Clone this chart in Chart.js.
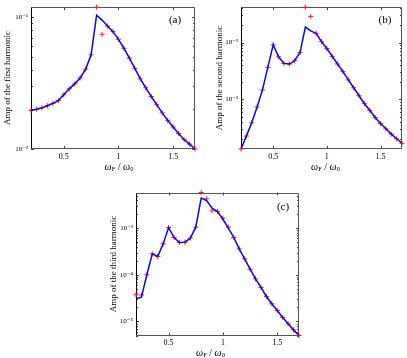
<!DOCTYPE html>
<html>
<head>
<meta charset="utf-8">
<script src="https://cdn.jsdelivr.net/npm/chart.js@4.4.1/dist/chart.umd.min.js"></script>
<style>
  body { margin: 0; background: #fff; width: 407px; height: 358px; position: relative; overflow: hidden; }
  canvas { position: absolute; }
</style>
</head>
<body>
<canvas id="chartA" width="205" height="175" style="left:0;top:0"></canvas>
<canvas id="chartB" width="202" height="175" style="left:205px;top:0"></canvas>
<canvas id="chartC" width="207" height="180" style="left:100px;top:178px"></canvas>
<script>
// driving frequency  wF / w0
const freq = [0.2, 0.25, 0.3, 0.35, 0.4, 0.45, 0.5, 0.55, 0.6, 0.65, 0.7, 0.75, 0.8, 0.85, 0.9, 0.95,
              1.0, 1.05, 1.1, 1.15, 1.2, 1.25, 1.3, 1.35, 1.4, 1.45, 1.5, 1.55, 1.6, 1.65, 1.7];
const xTickVals = [0.5, 1, 1.5];

// (a) first harmonic: blue curve and red '+' marks
const amp1Line  = [0.0196, 0.0200, 0.0205, 0.0213, 0.0222, 0.0233, 0.0258, 0.0286, 0.0312, 0.0346, 0.0404, 0.0518,
                   0.1035, 0.0950, 0.0856, 0.0776, 0.0679, 0.0581, 0.0489, 0.0409, 0.0340, 0.0291, 0.0250, 0.0217,
                   0.0188, 0.0165, 0.0147, 0.0131, 0.0118, 0.0109, 0.0100];
const amp1Marks = [0.0196, 0.0200, 0.0205, 0.0213, 0.0222, 0.0233, 0.0258, 0.0286, 0.0312, 0.0346, 0.0404, 0.0518,
                   0.1190, 0.0741, 0.0856, 0.0776, 0.0679, 0.0581, 0.0489, 0.0409, 0.0340, 0.0291, 0.0250, 0.0217,
                   0.0188, 0.0165, 0.0147, 0.0131, 0.0118, 0.0109, 0.0100];

// (b) second harmonic
const amp2Line  = [1.34e-4, 2.26e-4, 3.87e-4, 7.35e-4, 1.47e-3, 3.66e-3, 9.1e-3, 5.62e-3, 4.3e-3, 4.19e-3, 4.78e-3, 6.7e-3,
                   1.875e-2, 1.6e-2, 1.456e-2, 1.04e-2, 7.86e-3, 5.7e-3, 4.19e-3, 3.08e-3, 2.2e-3, 1.6e-3, 1.16e-3, 8.4e-4,
                   6.42e-4, 4.79e-4, 3.76e-4, 3.04e-4, 2.45e-4, 2.03e-4, 1.69e-4];
const amp2Marks = [1.34e-4, 2.26e-4, 3.87e-4, 7.35e-4, 1.47e-3, 3.66e-3, 9.1e-3, 5.62e-3, 4.3e-3, 4.19e-3, 4.78e-3, 6.7e-3,
                   4.19e-2, 2.88e-2, 1.456e-2, 1.04e-2, 7.86e-3, 5.7e-3, 4.19e-3, 3.08e-3, 2.2e-3, 1.6e-3, 1.16e-3, 8.4e-4,
                   6.42e-4, 4.79e-4, 3.76e-4, 3.04e-4, 2.45e-4, 2.03e-4, 1.69e-4];

// (c) third harmonic
const amp3Line  = [3.06e-5, 3.3e-5, 1.0e-4, 2.82e-4, 2.47e-4, 4.6e-4, 1.03e-3, 6.3e-4, 4.93e-4, 5.0e-4, 6.1e-4, 1.05e-3,
                   4.4e-3, 3.9e-3, 2.68e-3, 2.27e-3, 1.55e-3, 1.0e-3, 6.3e-4, 3.6e-4, 2.2e-4, 1.32e-4, 8.2e-5, 5.35e-5,
                   3.43e-5, 2.39e-5, 1.72e-5, 1.22e-5, 8.9e-6, 6.6e-6, 5.0e-6];
const amp3Marks = [3.73e-5, 3.7e-5, 1.0e-4, 2.82e-4, 2.47e-4, 4.6e-4, 1.03e-3, 6.3e-4, 4.93e-4, 5.0e-4, 6.1e-4, 1.05e-3,
                   5.8e-3, 4.25e-3, 2.35e-3, 2.27e-3, 1.64e-3, 1.05e-3, 6.3e-4, 3.6e-4, 2.2e-4, 1.32e-4, 8.2e-5, 5.35e-5,
                   3.43e-5, 2.39e-5, 1.72e-5, 1.22e-5, 8.9e-6, 6.6e-6, 5.0e-6];

const SERIF = '"Liberation Serif", "DejaVu Serif", serif';
const SUP = {'-': '\u207B', '0': '\u2070', '1': '\u00B9', '2': '\u00B2', '3': '\u00B3', '4': '\u2074', '5': '\u2075', '6': '\u2076'};
const powLabel = v => '10' + String(Math.round(Math.log10(v))).split('').map(c => SUP[c]).join('');

// box, inward ticks, panel letter and the x label with subscripts
const decor = {
  id: 'decor',
  beforeDatasetsDraw(chart) {
    const {ctx, chartArea: a, scales: {x, y}} = chart;
    ctx.save();
    ctx.lineWidth = 1;
    ctx.strokeStyle = '#444';
    ctx.beginPath();
    xTickVals.forEach(v => {
      const px = Math.round(x.getPixelForValue(v)) + 0.5;
      ctx.moveTo(px, a.bottom); ctx.lineTo(px, a.bottom - 3);
      ctx.moveTo(px, a.top); ctx.lineTo(px, a.top + 3);
    });
    for (let e = Math.floor(Math.log10(y.min)); e <= Math.ceil(Math.log10(y.max)); e++) {
      for (let m = 1; m < 10; m++) {
        const v = m * Math.pow(10, e);
        if (v < y.min * 0.999 || v > y.max) continue;
        const py = Math.round(y.getPixelForValue(v)) + 0.5;
        const len = m === 1 ? 3 : 2;
        ctx.moveTo(a.left, py); ctx.lineTo(a.left + len, py);
        ctx.moveTo(a.right, py); ctx.lineTo(a.right - len, py);
      }
    }
    ctx.stroke();
    const l = Math.round(a.left) + 0.5, r = Math.round(a.right) - 0.5;
    const t = Math.round(a.top) + 0.5, b = Math.round(a.bottom) - 0.5;
    ctx.strokeStyle = '#555';
    ctx.beginPath(); ctx.moveTo(l, t); ctx.lineTo(r, t); ctx.lineTo(r, b); ctx.lineTo(l, b); ctx.stroke();
    ctx.strokeStyle = '#000';
    ctx.beginPath(); ctx.moveTo(l, t); ctx.lineTo(l, b); ctx.stroke();

    const o = chart.options.plugins.decor;
    ctx.fillStyle = '#000';
    ctx.textBaseline = 'middle';
    ctx.textAlign = 'center';
    ctx.font = '11px ' + SERIF;
    ctx.fillText(o.letter, a.right - o.letterDx, a.top + o.letterDy);

    // x label: wF / w0
    const parts = [
      ['\u03C9', 'italic 10px ' + SERIF, 0],
      ['F', '6.5px ' + SERIF, 2],
      [' / ', '10px ' + SERIF, 0],
      ['\u03C9', 'italic 10px ' + SERIF, 0],
      ['0', '6.5px ' + SERIF, 2]
    ];
    let w = 0;
    parts.forEach(p => { ctx.font = p[1]; w += ctx.measureText(p[0]).width; });
    let cx = (a.left + a.right) / 2 + o.titleDx - w / 2;
    ctx.textAlign = 'left';
    parts.forEach(p => {
      ctx.font = p[1];
      ctx.fillText(p[0], cx, o.titleY + p[2]);
      cx += ctx.measureText(p[0]).width;
    });
    ctx.restore();
  }
};

function makeChart(id, lineVals, markVals, yTitle, box) {
  const all = lineVals.concat(markVals);
  return new Chart(document.getElementById(id), {
    type: 'line',
    data: {
      datasets: [
        {
          data: freq.map((f, i) => ({x: f, y: lineVals[i]})),
          borderColor: '#0808e0',
          borderWidth: 1.5,
          pointRadius: 0,
          tension: 0,
          order: 0
        },
        {
          data: freq.map((f, i) => ({x: f, y: markVals[i]})),
          showLine: false,
          pointStyle: 'cross',
          pointRadius: 2.6,
          pointBorderWidth: 1,
          pointBorderColor: '#ff2020',
          clip: false,
          order: 1
        }
      ]
    },
    options: {
      responsive: false,
      animation: false,
      devicePixelRatio: 1,
      layout: {padding: {left: 0, top: box.top, right: box.right, bottom: 0}},
      plugins: {
        legend: {display: false},
        tooltip: {enabled: false},
        decor: box
      },
      scales: {
        x: {
          type: 'linear', min: 0.2, max: 1.7,
          grid: {display: false, drawTicks: false}, border: {display: false},
          ticks: {font: {family: SERIF, size: 8}, color: '#000', padding: 3, maxRotation: 0, callback: v => String(v)},
          afterBuildTicks: s => { s.ticks = xTickVals.map(v => ({value: v})); },
          afterFit: s => { s.height = box.xh; }
        },
        y: {
          type: 'logarithmic',
          min: Math.min(...all), max: Math.max(...all),
          grid: {display: false, drawTicks: false}, border: {display: false},
          ticks: {font: {family: SERIF, size: 7}, color: '#000', padding: 3, callback: v => powLabel(v)},
          afterBuildTicks: s => {
            const t = [];
            for (let e = Math.ceil(Math.log10(s.min) - 1e-9); Math.pow(10, e) <= s.max; e++) t.push({value: Math.pow(10, e)});
            s.ticks = t;
          },
          afterFit: s => { s.width = box.yw; },
          title: {display: true, text: yTitle, color: '#000', font: {family: SERIF, size: 9}, padding: {top: box.titlePad, bottom: 0}}
        }
      }
    },
    plugins: [decor]
  });
}

makeChart('chartA', amp1Line, amp1Marks, 'Amp of the first harmonic',
  {top: 6, right: 10, xh: 26, yw: 31, titlePad: 2, letter: '(a)', letterDx: 20, letterDy: 13, titleDx: 6, titleY: 167});
makeChart('chartB', amp2Line, amp2Marks, 'Amp of the second harmonic',
  {top: 6, right: 3, xh: 26, yw: 36, titlePad: 9, letter: '(b)', letterDx: 17, letterDy: 13, titleDx: 4, titleY: 167});
makeChart('chartC', amp3Line, amp3Marks, 'Amp of the third harmonic',
  {top: 14.5, right: 8, xh: 22.5, yw: 36, titlePad: 8, letter: '(c)', letterDx: 16, letterDy: 15, titleDx: -7, titleY: 175});
</script>
</body>
</html>
